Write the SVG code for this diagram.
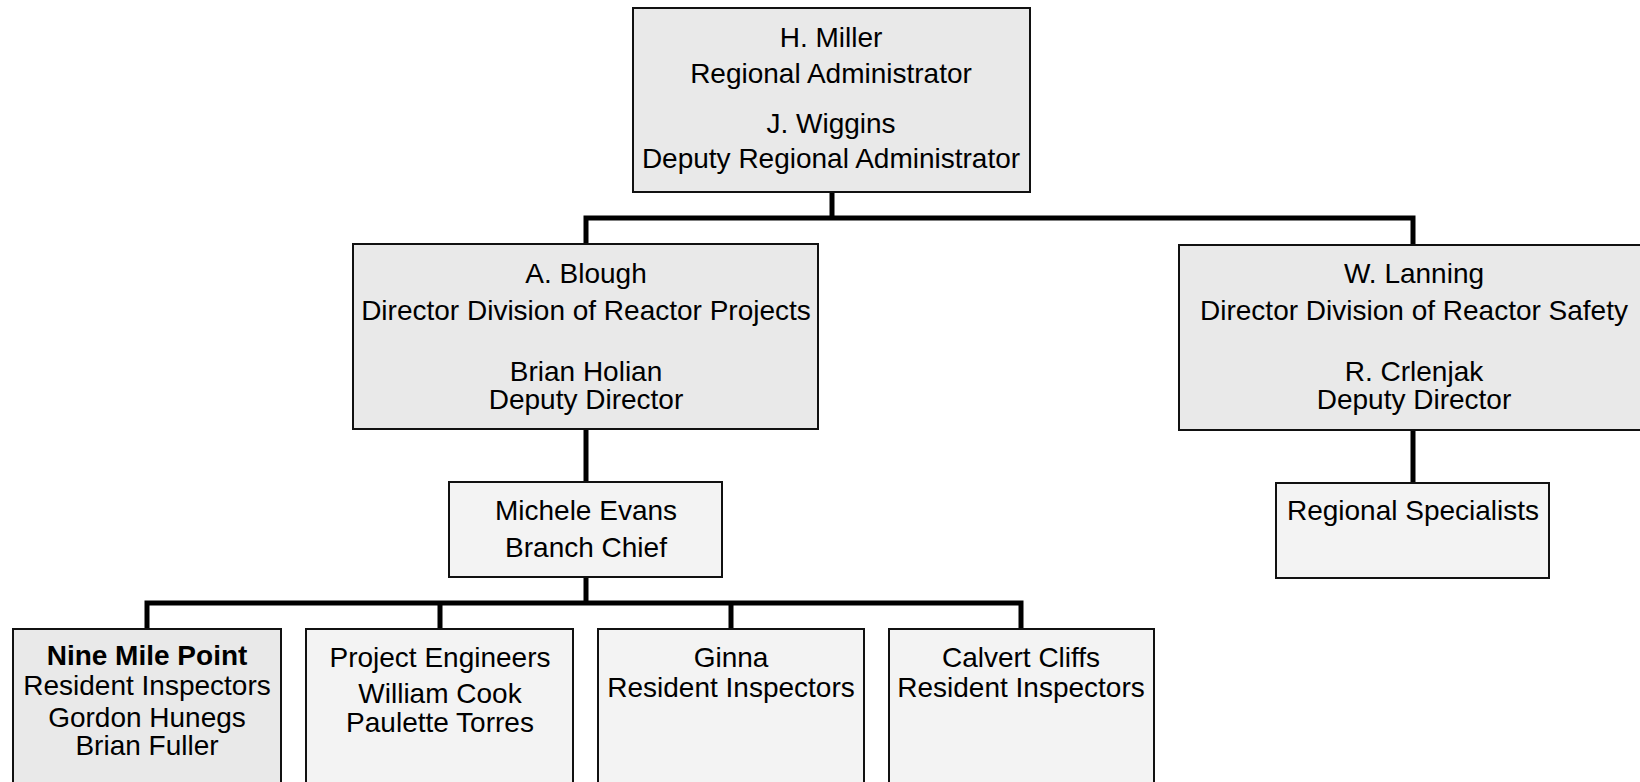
<svg xmlns="http://www.w3.org/2000/svg" width="1640" height="782" viewBox="0 0 1640 782">
<style>
.box{stroke:#111;stroke-width:2;}
.dark{fill:#e9e9e9;}
.light{fill:#f3f3f3;}
text{font-family:"Liberation Sans",Arial,sans-serif;font-size:28px;fill:#000;text-anchor:middle;}
.b{font-weight:bold;}
.con{stroke:#000;stroke-width:5;fill:none;stroke-linecap:square;}
</style>
<rect width="1640" height="782" fill="#fff"/>
<g id="connectors">
<path class="con" d="M832 192V218M586 218H1413M586 218V244M1413 218V245"/>
<path class="con" d="M586 429V482"/>
<path class="con" d="M1413 430V483"/>
<path class="con" d="M586 577V603M147 603H1021M147 603V629M440 603V629M731 603V629M1021 603V629"/>
</g>
<g id="miller">
<rect class="box dark" x="633" y="8" width="397" height="184"/>
<text x="831" y="47">H. Miller</text>
<text x="831" y="83">Regional Administrator</text>
<text x="831" y="133">J. Wiggins</text>
<text x="831" y="168">Deputy Regional Administrator</text>
</g>
<g id="blough">
<rect class="box dark" x="353" y="244" width="465" height="185"/>
<text x="586" y="283">A. Blough</text>
<text x="586" y="320">Director Division of Reactor Projects</text>
<text x="586" y="381">Brian Holian</text>
<text x="586" y="409">Deputy Director</text>
</g>
<g id="lanning">
<rect class="box dark" x="1179" y="245" width="480" height="185"/>
<text x="1414" y="283">W. Lanning</text>
<text x="1414" y="320">Director Division of Reactor Safety</text>
<text x="1414" y="381">R. Crlenjak</text>
<text x="1414" y="409">Deputy Director</text>
</g>
<g id="evans">
<rect class="box light" x="449" y="482" width="273" height="95"/>
<text x="586" y="520">Michele Evans</text>
<text x="586" y="557">Branch Chief</text>
</g>
<g id="specialists">
<rect class="box light" x="1276" y="483" width="273" height="95"/>
<text x="1413" y="520">Regional Specialists</text>
</g>
<g id="ninemile">
<rect class="box dark" x="13" y="629" width="268" height="170"/>
<text class="b" x="147" y="665">Nine Mile Point</text>
<text x="147" y="695">Resident Inspectors</text>
<text x="147" y="727">Gordon Hunegs</text>
<text x="147" y="755">Brian Fuller</text>
</g>
<g id="engineers">
<rect class="box light" x="306" y="629" width="267" height="170"/>
<text x="440" y="667">Project Engineers</text>
<text x="440" y="703">William Cook</text>
<text x="440" y="732">Paulette Torres</text>
</g>
<g id="ginna">
<rect class="box light" x="598" y="629" width="266" height="170"/>
<text x="731" y="667">Ginna</text>
<text x="731" y="697">Resident Inspectors</text>
</g>
<g id="calvert">
<rect class="box light" x="889" y="629" width="265" height="170"/>
<text x="1021" y="667">Calvert Cliffs</text>
<text x="1021" y="697">Resident Inspectors</text>
</g>
</svg>
